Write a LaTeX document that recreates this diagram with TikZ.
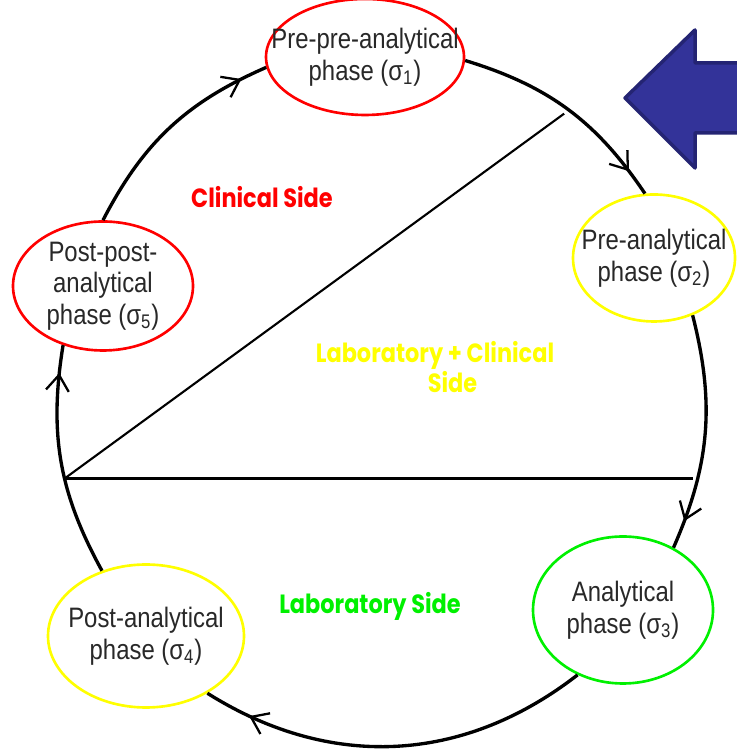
\documentclass[tikz,border=0pt]{standalone}
\usepackage{fontspec}
\setmainfont{Liberation Sans}[FakeStretch=0.85]
\newfontfamily\sidefont{Poppins}[FakeStretch=0.85]
\usetikzlibrary{arrows.meta,shapes.geometric,decorations.markings}
\definecolor{phred}{RGB}{255,0,0}
\definecolor{phyellow}{RGB}{255,255,0}
\definecolor{phgreen}{RGB}{0,240,0}
\definecolor{phtext}{RGB}{40,40,40}
\definecolor{arrowblue}{RGB}{51,51,153}
\definecolor{arrowedge}{RGB}{36,36,115}

\tikzset{
  phase/.style={ellipse, draw=#1, line width=1.5pt, fill=white, inner xsep=-20pt,
    inner ysep=-6pt, align=center, text=phtext, font=\fontsize{16}{18}\selectfont},
  loopline/.style={line width=1.9pt, postaction={decorate},
    decoration={markings, mark=at position 0.88 with
      {\arrow{Straight Barb[length=9pt,width=13pt,line width=1.3pt]}}}},
  sidelabel/.style={font=\sidefont\bfseries\fontsize{15}{17}\selectfont, align=center},
}

\begin{document}
\begin{tikzpicture}
  \useasboundingbox (0,0) rectangle (14.72,15.08);
  % Phases of the cycle
  \node[phase=phred, minimum width=3.96cm, minimum height=2.32cm] (prepre) at (7.30,13.94)
    {Pre-pre-analytical\\phase (σ\textsubscript{1})};
  \node[phase=phyellow, minimum width=3.24cm, minimum height=2.54cm] (pre) at (13.08,9.92)
    {Pre-analytical\\phase (σ\textsubscript{2})};
  \node[phase=phgreen, minimum width=3.60cm, minimum height=2.94cm] (ana) at (12.46,2.88)
    {Analytical\\phase (σ\textsubscript{3})};
  \node[phase=phyellow, minimum width=3.92cm, minimum height=2.86cm] (post) at (2.92,2.36)
    {Post-analytical\\phase (σ\textsubscript{4})};
  \node[phase=phred, minimum width=3.60cm, minimum height=2.58cm] (postpost) at (2.06,9.36)
    {Post-post-\\analytical\\phase (σ\textsubscript{5})};
  % Arcs of the cycle
  \draw[loopline] (prepre.-2) to[bend left=19.5] (pre.98);
  \draw[loopline] (pre.-56) to[bend left=19] (ana.51);
  \draw[loopline] (ana.235) to[bend left=35] (post.-43);
  \draw[loopline] (post.124) to[bend left=19] (postpost.236);
  \draw[loopline] (postpost.north) to[bend left=19.5] (prepre.186);
  % Chords splitting the sides
  \coordinate (c) at (7.58,7.08);
  \path (c) ++(192.9:6.44 and 7.0) coordinate (lft);
  \path (c) ++(-12.9:6.44 and 7.0) coordinate (rgt);
  \path (c) ++(54.9:6.44 and 7.0) coordinate (upr);
  \draw[line width=1.2pt] (lft) -- (upr);
  \draw[line width=1.6pt] (lft) -- (rgt);
  % Side labels
  \node[sidelabel, text=phred] (clin) at (5.24,11.14) {Clinical Side};
  \node[sidelabel, text=phyellow] (labclin) at (8.70,7.74)
    {Laboratory + Clinical\\\hspace*{0.7cm}Side};
  \node[sidelabel, text=phgreen] (lab) at (7.40,2.96) {Laboratory Side};
  % Big arrow
  \draw[arrowedge, fill=arrowblue, line width=2pt, line join=round]
    (12.50,13.12) -- (13.90,14.48) -- (13.90,13.82) -- (15.2,13.82)
    -- (15.2,12.42) -- (13.90,12.42) -- (13.90,11.72) -- cycle;
\end{tikzpicture}
\end{document}
